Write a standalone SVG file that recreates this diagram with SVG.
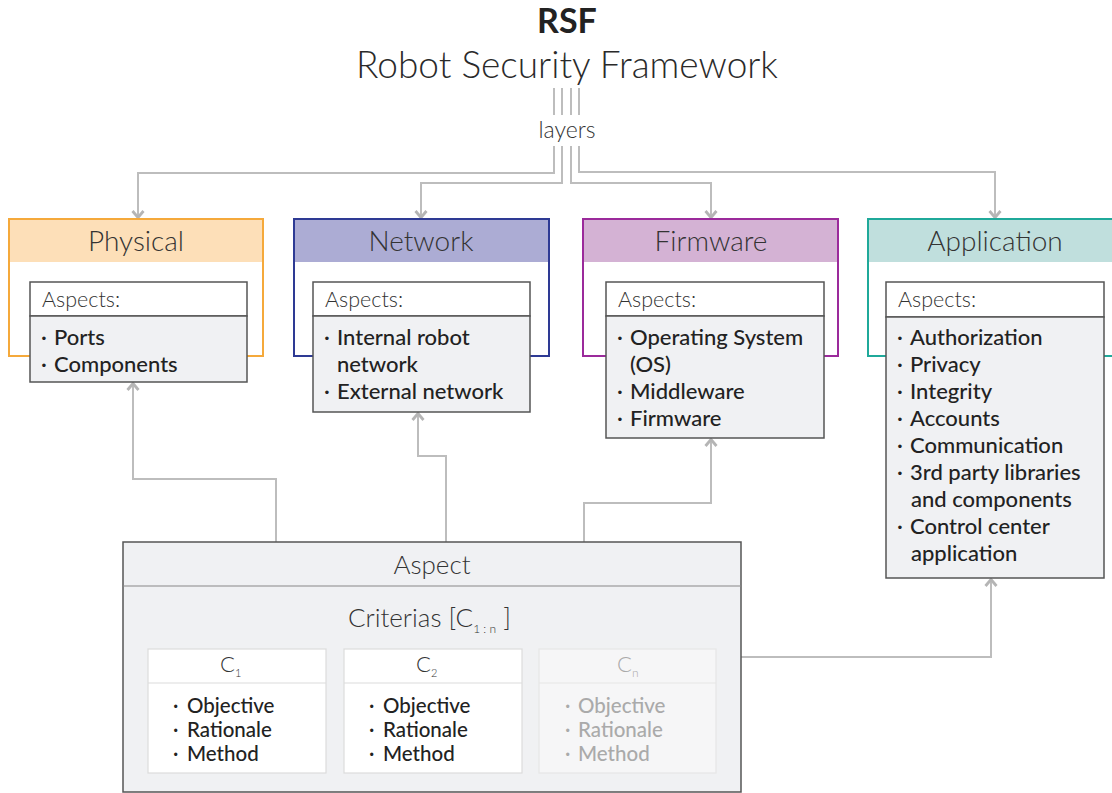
<svg xmlns="http://www.w3.org/2000/svg" width="1112" height="793" viewBox="0 0 1112 793">
<defs>
<marker id="arr" viewBox="0 0 10 14" refX="8" refY="7" markerWidth="10" markerHeight="14" markerUnits="userSpaceOnUse" orient="auto">
<path d="M1,1.5 L7.5,7 L1,12.5" fill="none" stroke="#b5b5b5" stroke-width="2.8"/>
</marker>
<style>
.t{font-family:Lato,"Open Sans","Liberation Sans",sans-serif;fill:#333}
.title{font-size:37px;font-weight:300;fill:#2a2a2a}
.rsf{font-size:34px;font-weight:700;fill:#222}
.lay{font-size:23px;font-weight:300}
.hd{font-size:28px;font-weight:300;fill:#333}
.asp{font-size:21.5px;font-weight:300;fill:#333}
.it{font-size:22px;font-weight:500;fill:#222}
.ci{font-size:20.5px;font-weight:500;fill:#222}
.gr .ci{fill:#aaa}
.gr .hd{fill:#aaa}
.con{fill:none;stroke:#bdbdbd;stroke-width:2}
.inner{fill:#f0f1f3;stroke:#555;stroke-width:1.5}
.innerh{fill:#fff;stroke:#555;stroke-width:1.5}
.cbox{fill:#fff;stroke:#dcdcdc;stroke-width:1.2}
</style>
</defs>

<g id="title">
<text class="t rsf" x="567" y="33" text-anchor="middle">RSF</text>
<text class="t title" x="567" y="78" text-anchor="middle">Robot Security Framework</text>
<text class="t lay" x="567" y="138" text-anchor="middle">layers</text>
</g>

<g id="connectors">
<path class="con" d="M554,88 V115 M562,88 V115 M571,88 V115 M579,88 V115"/>
<path class="con" d="M554,146 V173 H138 V218" marker-end="url(#arr)"/>
<path class="con" d="M562,146 V183 H421 V218" marker-end="url(#arr)"/>
<path class="con" d="M571,146 V183 H711 V218" marker-end="url(#arr)"/>
<path class="con" d="M579,146 V172 H995 V218" marker-end="url(#arr)"/>
<path class="con" d="M276,542 V479 H133 V383" marker-end="url(#arr)"/>
<path class="con" d="M446,542 V456 H418 V413" marker-end="url(#arr)"/>
<path class="con" d="M584,542 V503 H711 V439" marker-end="url(#arr)"/>
<path class="con" d="M741,657 H991 V579" marker-end="url(#arr)"/>
</g>

<g id="physical">
<rect x="9" y="219" width="254" height="137" fill="#fff" stroke="#f5a93b" stroke-width="2"/>
<rect x="10" y="220" width="252" height="42" fill="#fddfb8"/>
<text class="t hd" x="136" y="251" text-anchor="middle">Physical</text>
<rect class="innerh" x="30" y="282" width="217" height="34"/>
<rect class="inner" x="30" y="316" width="217" height="66"/>
<text class="t asp" x="42" y="307">Aspects:</text>
<text class="t it" y="345"><tspan x="41">· </tspan><tspan x="54">Ports</tspan></text>
<text class="t it" y="372"><tspan x="41">· </tspan><tspan x="54">Components</tspan></text>
</g>

<g id="network">
<rect x="294" y="219" width="255" height="137" fill="#fff" stroke="#2e3a94" stroke-width="2"/>
<rect x="295" y="220" width="253" height="42" fill="#acacd4"/>
<text class="t hd" x="421" y="251" text-anchor="middle">Network</text>
<rect class="innerh" x="313" y="282" width="217" height="34"/>
<rect class="inner" x="313" y="316" width="217" height="96"/>
<text class="t asp" x="325" y="307">Aspects:</text>
<text class="t it" y="345"><tspan x="324">· </tspan><tspan x="337">Internal robot</tspan></text>
<text class="t it" x="337" y="372">network</text>
<text class="t it" y="399"><tspan x="324">· </tspan><tspan x="337">External network</tspan></text>
</g>

<g id="firmware">
<rect x="583" y="219" width="255" height="137" fill="#fff" stroke="#9b2a9b" stroke-width="2"/>
<rect x="584" y="220" width="253" height="42" fill="#d4b2d4"/>
<text class="t hd" x="711" y="251" text-anchor="middle">Firmware</text>
<rect class="innerh" x="606" y="282" width="218" height="34"/>
<rect class="inner" x="606" y="316" width="218" height="122"/>
<text class="t asp" x="618" y="307">Aspects:</text>
<text class="t it" y="345"><tspan x="617">· </tspan><tspan x="630">Operating System</tspan></text>
<text class="t it" x="630" y="372">(OS)</text>
<text class="t it" y="399"><tspan x="617">· </tspan><tspan x="630">Middleware</tspan></text>
<text class="t it" y="426"><tspan x="617">· </tspan><tspan x="630">Firmware</tspan></text>
</g>

<g id="application">
<rect x="868" y="219" width="260" height="137" fill="#fff" stroke="#1fa99a" stroke-width="2"/>
<rect x="869" y="220" width="258" height="42" fill="#c0dfdd"/>
<text class="t hd" x="995" y="251" text-anchor="middle">Application</text>
<rect class="innerh" x="886" y="282" width="218" height="35"/>
<rect class="inner" x="886" y="317" width="218" height="261"/>
<text class="t asp" x="898" y="307">Aspects:</text>
<text class="t it" y="345"><tspan x="897">· </tspan><tspan x="910">Authorization</tspan></text>
<text class="t it" y="372"><tspan x="897">· </tspan><tspan x="910">Privacy</tspan></text>
<text class="t it" y="399"><tspan x="897">· </tspan><tspan x="910">Integrity</tspan></text>
<text class="t it" y="426"><tspan x="897">· </tspan><tspan x="910">Accounts</tspan></text>
<text class="t it" y="453"><tspan x="897">· </tspan><tspan x="910">Communication</tspan></text>
<text class="t it" y="480"><tspan x="897">· </tspan><tspan x="910">3rd party libraries</tspan></text>
<text class="t it" x="911" y="507">and components</text>
<text class="t it" y="534"><tspan x="897">· </tspan><tspan x="910">Control center</tspan></text>
<text class="t it" x="911" y="561">application</text>
</g>

<g id="aspect">
<rect x="123" y="542" width="618" height="250" fill="#f0f1f3" stroke="#555" stroke-width="1.5"/>
<line x1="123" y1="586" x2="741" y2="586" stroke="#888" stroke-width="1.2"/>
<text class="t hd" x="432" y="574" text-anchor="middle" style="font-size:26px">Aspect</text>
<text class="t hd" x="348" y="627" style="font-size:26px">Criterias [C<tspan font-size="12" dy="6">1 : n</tspan><tspan dy="-6"> ]</tspan></text>
</g>

<g id="c1">
<rect class="cbox" x="148" y="649" width="178" height="124"/>
<line x1="148" y1="683" x2="326" y2="683" stroke="#dcdcdc" stroke-width="1.2"/>
<text class="t hd" x="220" y="672" style="font-size:22px">C<tspan font-size="11" dy="5">1</tspan></text>
<text class="t ci" y="713"><tspan x="173">· </tspan><tspan x="187">Objective</tspan></text>
<text class="t ci" y="737"><tspan x="173">· </tspan><tspan x="187">Rationale</tspan></text>
<text class="t ci" y="761"><tspan x="173">· </tspan><tspan x="187">Method</tspan></text>
</g>

<g id="c2">
<rect class="cbox" x="344" y="649" width="178" height="124"/>
<line x1="344" y1="683" x2="522" y2="683" stroke="#dcdcdc" stroke-width="1.2"/>
<text class="t hd" x="416" y="672" style="font-size:22px">C<tspan font-size="11" dy="5">2</tspan></text>
<text class="t ci" y="713"><tspan x="369">· </tspan><tspan x="383">Objective</tspan></text>
<text class="t ci" y="737"><tspan x="369">· </tspan><tspan x="383">Rationale</tspan></text>
<text class="t ci" y="761"><tspan x="369">· </tspan><tspan x="383">Method</tspan></text>
</g>

<g id="cn" class="gr">
<rect x="539" y="649" width="177" height="124" fill="#f6f6f7" stroke="#e6e6e6" stroke-width="1.2"/>
<line x1="539" y1="683" x2="716" y2="683" stroke="#e6e6e6" stroke-width="1.2"/>
<text class="t hd" x="617" y="672" style="font-size:22px">C<tspan font-size="12" dy="5">n</tspan></text>
<text class="t ci" y="713"><tspan x="565">· </tspan><tspan x="578">Objective</tspan></text>
<text class="t ci" y="737"><tspan x="565">· </tspan><tspan x="578">Rationale</tspan></text>
<text class="t ci" y="761"><tspan x="565">· </tspan><tspan x="578">Method</tspan></text>
</g>
</svg>
